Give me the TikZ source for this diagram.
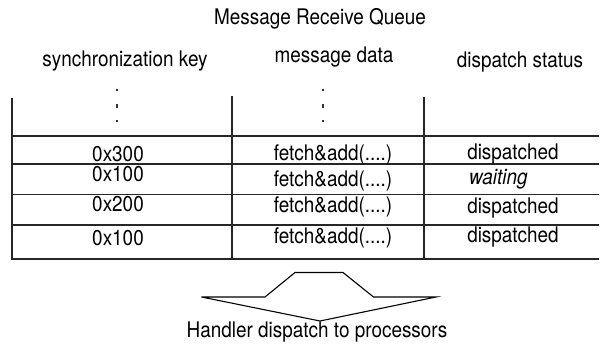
\documentclass[tikz,border=0pt]{standalone}
\usepackage{fontspec}
\setmainfont{TeX Gyre Heros}
\newcommand{\nar}[1]{\scalebox{0.88}[1]{#1}}
\begin{document}
\begin{tikzpicture}[x=1pt,y=-1pt,
  rule/.style={line width=1.2pt,draw=black!85},
  dotmark/.style={line width=1.2pt,draw=black!80},
  txt/.style={inner sep=0pt,anchor=base,font=\fontsize{21.5}{26}\selectfont},
  txtw/.style={txt,anchor=base west}]
\useasboundingbox (0,0) rectangle (601,347);
% title and headers
\node[txt] (title) at (320,25) {\nar{Message Receive Queue}};
\node[txt] (hkey) at (125,67) {\nar{synchronization key}};
\node[txt] (hdata) at (334,63) {\nar{message data}};
\node[txt] (hstat) at (520,68) {\nar{dispatch status}};
% table rules
\draw[rule] (12,98) -- (12,260);
\draw[rule] (232,96) -- (232,259);
\draw[rule] (424,97) -- (424,259);
\foreach \y in {136,164,194.5,225,259}
  \draw[rule] (12,\y) -- (599,\y);
% ellipsis marks
\foreach \x in {117,323}{
  \draw[dotmark] (\x,89) -- (\x,91.5);
  \draw[dotmark] (\x,104.5) -- (\x,108.5);
  \draw[dotmark] (\x,120) -- (\x,122.5);
}
% rows
\node[txt] (k1) at (118,161.5) {\nar{0x300}};
\node[txt] (k2) at (118,181.5) {\nar{0x100}};
\node[txt] (k3) at (118,211.5) {\nar{0x200}};
\node[txt] (k4) at (118,245) {\nar{0x100}};
\node[txt] (d1) at (333,160.5) {\nar{fetch\&add(....)}};
\node[txt] (d2) at (333,186.5) {\nar{fetch\&add(....)}};
\node[txt] (d3) at (333,212) {\nar{fetch\&add(....)}};
\node[txt] (d4) at (333,243.5) {\nar{fetch\&add(....)}};
\node[txt] (s1) at (513,159.5) {\nar{dispatched}};
\node[txtw] (s2) at (469,185) {\nar{\itshape waiting}};
\node[txt] (s3) at (513,213) {\nar{dispatched}};
\node[txt] (s4) at (513,242) {\nar{dispatched}};
% dispatch arrow
\draw[line width=1.1pt,line join=miter] (201.5,297) -- (265,297) -- (295,272.5) -- (343,272.5)
  -- (373.5,297) -- (436,297) -- (320,321) -- cycle;
\node[txt] (handler) at (317,337.5) {\nar{Handler dispatch to processors}};
\end{tikzpicture}
\end{document}
